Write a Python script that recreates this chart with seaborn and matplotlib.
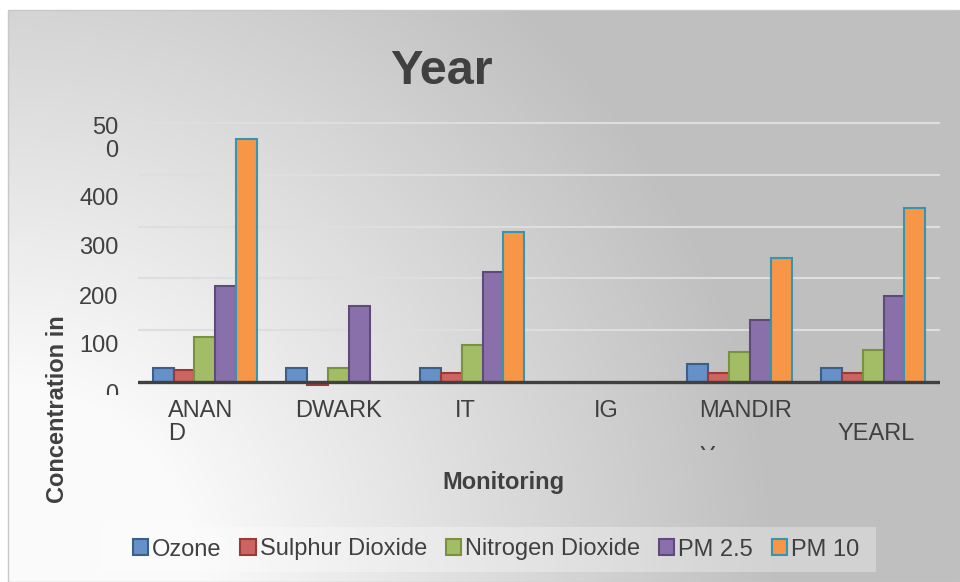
import numpy as np
import pandas as pd
import matplotlib
matplotlib.use("Agg")
import matplotlib.pyplot as plt
import matplotlib.transforms as mtransforms
from matplotlib.patches import Rectangle, Patch
import seaborn as sns

# ---- data -------------------------------------------------------------
stations = ["ANAND", "DWARK", "IT", "IG", "MANDIR", "YEARL"]
station_labels = ["ANAN\nD", "DWARK", "IT", "IG", "MANDIR\n\nY", "\nYEARL"]
pollutants = ["Ozone", "Sulphur Dioxide", "Nitrogen Dioxide", "PM 2.5", "PM 10"]

ozone = [27, 27, 27, np.nan, 35, 27]
sulphur_dioxide = [23, -6, 17, np.nan, 17, 17]
nitrogen_dioxide = [87, 27, 72, np.nan, 58, 62]
pm25 = [186, 147, 213, np.nan, 120, 166]
pm10 = [470, np.nan, 290, np.nan, 240, 335]

y_ticks = [0, 100, 200, 300, 400, 500]
y_tick_labels = ["0", "100", "200", "300", "400", "50\n0"]

# ---- style ------------------------------------------------------------
sns.set_style("white")
plt.rcParams["font.family"] = ["Liberation Sans", "DejaVu Sans"]
TEXT = "#404040"

fills = ["#6590c8", "#cd6461", "#a3bd66", "#8a70aa", "#f79646"]
edges = ["#3a5f8c", "#9b3b38", "#77933c", "#5f4a7c", "#3795b0"]

wide = pd.DataFrame({
    "Station": stations,
    "Ozone": ozone,
    "Sulphur Dioxide": sulphur_dioxide,
    "Nitrogen Dioxide": nitrogen_dioxide,
    "PM 2.5": pm25,
    "PM 10": pm10,
})
long = wide.melt(id_vars="Station", var_name="Pollutant",
                 value_name="Value").dropna()

W, H, DPI = 960, 582, 100
fig = plt.figure(figsize=(W / DPI, H / DPI), dpi=DPI, facecolor="white")

# soft radial shading from the lower-left corner
bg = fig.add_axes([0, 0, 1, 1], zorder=-10)
yy, xx = np.mgrid[0:H, 0:W]
d = np.hypot(xx, yy - H)
t = np.clip((d - 200) / (780 - 200), 0, 1)
light = (250 - 59 * t) / 255.0
img = np.dstack([light, light, light])
img[:10, :, :] = 1.0
img[:, :8, :] = 1.0
bg.imshow(img, extent=[0, W, H, 0], aspect="auto", interpolation="bilinear")
bg.add_patch(Rectangle((8, 10), W - 8, H - 10, fill=False,
                       edgecolor="#c8c8c8", linewidth=1.0))
bg.set_xlim(0, W)
bg.set_ylim(H, 0)
bg.axis("off")

# ---- plot area --------------------------------------------------------
ymin, ymax = -10, 510
ax = fig.add_axes([138 / W, 0.33474, 802 / W, 0.46282])
ax.set_facecolor("none")

sns.barplot(data=long, x="Station", y="Value", hue="Pollutant",
            order=stations, hue_order=pollutants, palette=fills,
            width=0.78, errorbar=None, saturation=1, legend=False,
            linewidth=1.5, ax=ax)
for cont, ec in zip(ax.containers, edges):
    for bar in cont:
        bar.set_edgecolor(ec)
        bar.set_linewidth(1.5)

ax.set_xlim(-0.5, len(stations) - 0.5)
ax.set_ylim(ymin, ymax)
ax.set_xlabel("")
ax.set_ylabel("")
for s in ax.spines.values():
    s.set_visible(False)

ax.set_yticks(y_ticks)
ax.yaxis.grid(True, color="#dedede", linewidth=1.5)
ax.set_axisbelow(True)
ax.axhline(0, color=TEXT, linewidth=2.4, zorder=5)

ax.set_xticks(range(len(stations)))
ax.set_xticklabels(station_labels, fontsize=17, color=TEXT, linespacing=1.06)
ax.set_yticklabels(y_tick_labels, fontsize=17, color=TEXT, linespacing=1.06)
ax.tick_params(axis="x", length=0, pad=9)
ax.tick_params(axis="y", length=0, pad=14)

x_shift = [-4, 0, -7, 0, 6, 3]
for lab, dx in zip(ax.get_xticklabels(), x_shift):
    lab.set_multialignment("left")
    lab.set_transform(lab.get_transform() + mtransforms.ScaledTranslation(
        dx / DPI, 0, fig.dpi_scale_trans))

y_shift = [10, 13, 17, 19, 22, 13.5]
for lab, dy in zip(ax.get_yticklabels(), y_shift):
    lab.set_transform(lab.get_transform() + mtransforms.ScaledTranslation(
        0, -dy / DPI, fig.dpi_scale_trans))

# wrapped labels cut off by their text boxes
ylab0 = ax.get_yticklabels()[0]
ylab0.set_clip_on(True)
ylab0.set_clip_box(mtransforms.Bbox([[0, H - 395], [W, H]]))
xlab_m = ax.get_xticklabels()[4]
xlab_m.set_clip_on(True)
xlab_m.set_clip_box(mtransforms.Bbox([[0, H - 450], [W, H]]))

# ---- titles -----------------------------------------------------------
fig.text(441 / W, (H - 84) / H, "Year", ha="center", va="baseline",
         fontsize=35, fontweight="bold", color=TEXT,
         family=["Liberation Sans Narrow", "Liberation Sans"])
fig.text(503.5 / W, (H - 489) / H, "Monitoring", ha="center",
         va="baseline", fontsize=17, fontweight="bold", color=TEXT)
fig.text(58 / W, (H - 409) / H, "Concentration in", rotation=90,
         ha="center", va="center", fontsize=17, fontweight="bold",
         color=TEXT)

# ---- legend -----------------------------------------------------------
fig.patches.append(Rectangle((102 / W, 10 / H), 774 / W, 45 / H,
                             transform=fig.transFigure,
                             facecolor=(1, 1, 1, 0.3), edgecolor="none",
                             zorder=1))
handles = [Patch(facecolor=f, edgecolor=e, linewidth=1.5, label=p)
           for f, e, p in zip(fills, edges, pollutants)]
fig.legend(handles=handles, loc="center",
           bbox_to_anchor=(496 / W, (H - 549.5) / H), ncol=5,
           frameon=False, fontsize=17, labelcolor=TEXT,
           handlelength=0.64, handleheight=0.68, handletextpad=0.17,
           columnspacing=0.8, borderpad=0.2)

fig.savefig("out.png", dpi=DPI, facecolor="white")
